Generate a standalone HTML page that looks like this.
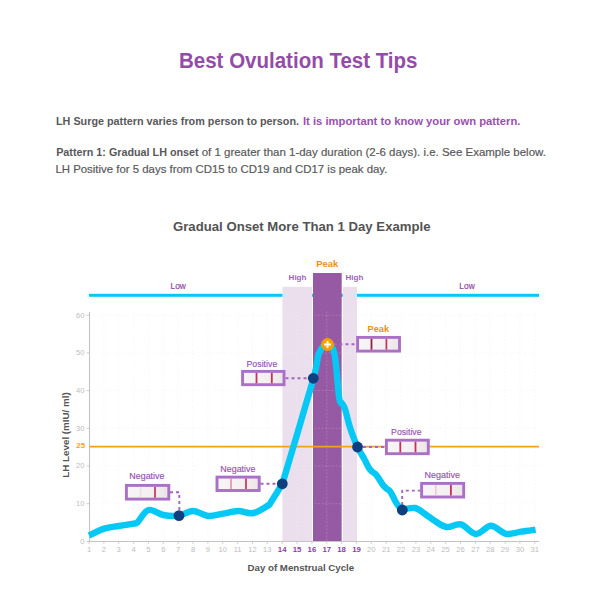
<!DOCTYPE html>
<html><head><meta charset="utf-8"><title>Best Ovulation Test Tips</title>
<style>
html,body{margin:0;padding:0;background:#fff;}
body{width:600px;height:600px;position:relative;overflow:hidden;font-family:"Liberation Sans",Arial,sans-serif;}
.chart{position:absolute;left:0;top:0;}
svg text{font-family:"Liberation Sans",Arial,sans-serif;}
.h1{font-size:22px;font-weight:bold;fill:#934ca8;}
.pb{font-size:11px;font-weight:bold;fill:#58585a;}
.ph{font-size:11px;font-weight:bold;fill:#9a4fb0;}
.pn{font-size:11px;fill:#58585a;stroke:#58585a;stroke-width:0.18px;}
.tl{font-size:7.6px;fill:#bdbdbd;}
.tl25{font-size:7.8px;fill:#f2a11a;font-weight:bold;}
.xlb{font-size:7.8px;fill:#8a3ea3;font-weight:bold;}
.low{font-size:8.4px;fill:#8a3ea3;stroke:#8a3ea3;stroke-width:0.15px;}
.high{font-size:8px;fill:#9c62b6;font-weight:bold;}
.peak{font-size:9.4px;fill:#ef8f0e;font-weight:bold;}
.pk2{font-size:9.2px;fill:#ef8f0e;font-weight:bold;}
.axt{font-size:9.8px;fill:#555;font-weight:bold;}
.bl{font-size:9.5px;fill:#9650af;stroke:#9650af;stroke-width:0.15px;}
.ct{font-size:12.6px;fill:#535353;font-weight:bold;}
</style></head><body>
<svg class="chart" width="600" height="600" viewBox="0 0 600 600">
<defs><linearGradient id="strip" x1="0" y1="0" x2="1" y2="0"><stop offset="0" stop-color="#f8f5f6"/><stop offset="0.6" stop-color="#f4f0f1"/><stop offset="1" stop-color="#ece5e7"/></linearGradient></defs>
<line x1="90" y1="503.7" x2="539" y2="503.7" stroke="#f7f7f7" stroke-width="0.8" stroke-dasharray="2 1.5"/>
<line x1="90" y1="466.0" x2="539" y2="466.0" stroke="#f7f7f7" stroke-width="0.8" stroke-dasharray="2 1.5"/>
<line x1="90" y1="428.3" x2="539" y2="428.3" stroke="#f7f7f7" stroke-width="0.8" stroke-dasharray="2 1.5"/>
<line x1="90" y1="390.6" x2="539" y2="390.6" stroke="#f7f7f7" stroke-width="0.8" stroke-dasharray="2 1.5"/>
<line x1="90" y1="352.9" x2="539" y2="352.9" stroke="#f7f7f7" stroke-width="0.8" stroke-dasharray="2 1.5"/>
<line x1="90" y1="315.2" x2="539" y2="315.2" stroke="#f7f7f7" stroke-width="0.8" stroke-dasharray="2 1.5"/>
<line x1="103.9" y1="311.4" x2="103.9" y2="541.4" stroke="#f7f7f7" stroke-width="0.8" stroke-dasharray="2 1.5"/>
<line x1="118.7" y1="311.4" x2="118.7" y2="541.4" stroke="#f7f7f7" stroke-width="0.8" stroke-dasharray="2 1.5"/>
<line x1="133.6" y1="311.4" x2="133.6" y2="541.4" stroke="#f7f7f7" stroke-width="0.8" stroke-dasharray="2 1.5"/>
<line x1="148.4" y1="311.4" x2="148.4" y2="541.4" stroke="#f7f7f7" stroke-width="0.8" stroke-dasharray="2 1.5"/>
<line x1="163.3" y1="311.4" x2="163.3" y2="541.4" stroke="#f7f7f7" stroke-width="0.8" stroke-dasharray="2 1.5"/>
<line x1="178.2" y1="311.4" x2="178.2" y2="541.4" stroke="#f7f7f7" stroke-width="0.8" stroke-dasharray="2 1.5"/>
<line x1="193.0" y1="311.4" x2="193.0" y2="541.4" stroke="#f7f7f7" stroke-width="0.8" stroke-dasharray="2 1.5"/>
<line x1="207.9" y1="311.4" x2="207.9" y2="541.4" stroke="#f7f7f7" stroke-width="0.8" stroke-dasharray="2 1.5"/>
<line x1="222.7" y1="311.4" x2="222.7" y2="541.4" stroke="#f7f7f7" stroke-width="0.8" stroke-dasharray="2 1.5"/>
<line x1="237.6" y1="311.4" x2="237.6" y2="541.4" stroke="#f7f7f7" stroke-width="0.8" stroke-dasharray="2 1.5"/>
<line x1="252.5" y1="311.4" x2="252.5" y2="541.4" stroke="#f7f7f7" stroke-width="0.8" stroke-dasharray="2 1.5"/>
<line x1="267.3" y1="311.4" x2="267.3" y2="541.4" stroke="#f7f7f7" stroke-width="0.8" stroke-dasharray="2 1.5"/>
<line x1="282.2" y1="311.4" x2="282.2" y2="541.4" stroke="#f7f7f7" stroke-width="0.8" stroke-dasharray="2 1.5"/>
<line x1="297.0" y1="311.4" x2="297.0" y2="541.4" stroke="#f7f7f7" stroke-width="0.8" stroke-dasharray="2 1.5"/>
<line x1="311.9" y1="311.4" x2="311.9" y2="541.4" stroke="#f7f7f7" stroke-width="0.8" stroke-dasharray="2 1.5"/>
<line x1="326.8" y1="311.4" x2="326.8" y2="541.4" stroke="#f7f7f7" stroke-width="0.8" stroke-dasharray="2 1.5"/>
<line x1="341.6" y1="311.4" x2="341.6" y2="541.4" stroke="#f7f7f7" stroke-width="0.8" stroke-dasharray="2 1.5"/>
<line x1="356.5" y1="311.4" x2="356.5" y2="541.4" stroke="#f7f7f7" stroke-width="0.8" stroke-dasharray="2 1.5"/>
<line x1="371.3" y1="311.4" x2="371.3" y2="541.4" stroke="#f7f7f7" stroke-width="0.8" stroke-dasharray="2 1.5"/>
<line x1="386.2" y1="311.4" x2="386.2" y2="541.4" stroke="#f7f7f7" stroke-width="0.8" stroke-dasharray="2 1.5"/>
<line x1="401.1" y1="311.4" x2="401.1" y2="541.4" stroke="#f7f7f7" stroke-width="0.8" stroke-dasharray="2 1.5"/>
<line x1="415.9" y1="311.4" x2="415.9" y2="541.4" stroke="#f7f7f7" stroke-width="0.8" stroke-dasharray="2 1.5"/>
<line x1="430.8" y1="311.4" x2="430.8" y2="541.4" stroke="#f7f7f7" stroke-width="0.8" stroke-dasharray="2 1.5"/>
<line x1="445.6" y1="311.4" x2="445.6" y2="541.4" stroke="#f7f7f7" stroke-width="0.8" stroke-dasharray="2 1.5"/>
<line x1="460.5" y1="311.4" x2="460.5" y2="541.4" stroke="#f7f7f7" stroke-width="0.8" stroke-dasharray="2 1.5"/>
<line x1="475.4" y1="311.4" x2="475.4" y2="541.4" stroke="#f7f7f7" stroke-width="0.8" stroke-dasharray="2 1.5"/>
<line x1="490.2" y1="311.4" x2="490.2" y2="541.4" stroke="#f7f7f7" stroke-width="0.8" stroke-dasharray="2 1.5"/>
<line x1="505.1" y1="311.4" x2="505.1" y2="541.4" stroke="#f7f7f7" stroke-width="0.8" stroke-dasharray="2 1.5"/>
<line x1="519.9" y1="311.4" x2="519.9" y2="541.4" stroke="#f7f7f7" stroke-width="0.8" stroke-dasharray="2 1.5"/>
<line x1="534.8" y1="311.4" x2="534.8" y2="541.4" stroke="#f7f7f7" stroke-width="0.8" stroke-dasharray="2 1.5"/>
<rect x="89" y="293.8" width="450" height="3" fill="#05c9f4"/>
<rect x="282.4" y="286.8" width="29.6" height="254.6" fill="#ebdfee"/>
<rect x="342.8" y="286.8" width="14.2" height="254.6" fill="#ebdfee"/>
<rect x="313" y="273" width="28.7" height="268.4" fill="#9659a4"/>
<line x1="283" y1="503.7" x2="357" y2="503.7" stroke="#ffffff" stroke-opacity="0.22" stroke-width="0.8" stroke-dasharray="2 1.5"/>
<line x1="283" y1="466.0" x2="357" y2="466.0" stroke="#ffffff" stroke-opacity="0.22" stroke-width="0.8" stroke-dasharray="2 1.5"/>
<line x1="283" y1="428.3" x2="357" y2="428.3" stroke="#ffffff" stroke-opacity="0.22" stroke-width="0.8" stroke-dasharray="2 1.5"/>
<line x1="283" y1="390.6" x2="357" y2="390.6" stroke="#ffffff" stroke-opacity="0.22" stroke-width="0.8" stroke-dasharray="2 1.5"/>
<line x1="283" y1="352.9" x2="357" y2="352.9" stroke="#ffffff" stroke-opacity="0.22" stroke-width="0.8" stroke-dasharray="2 1.5"/>
<line x1="283" y1="315.2" x2="357" y2="315.2" stroke="#ffffff" stroke-opacity="0.22" stroke-width="0.8" stroke-dasharray="2 1.5"/>
<line x1="297.0" y1="311.4" x2="297.0" y2="541.4" stroke="#ffffff" stroke-opacity="0.22" stroke-width="0.8" stroke-dasharray="2 1.5"/>
<line x1="311.9" y1="311.4" x2="311.9" y2="541.4" stroke="#ffffff" stroke-opacity="0.22" stroke-width="0.8" stroke-dasharray="2 1.5"/>
<line x1="326.8" y1="311.4" x2="326.8" y2="541.4" stroke="#ffffff" stroke-opacity="0.22" stroke-width="0.8" stroke-dasharray="2 1.5"/>
<line x1="341.6" y1="311.4" x2="341.6" y2="541.4" stroke="#ffffff" stroke-opacity="0.22" stroke-width="0.8" stroke-dasharray="2 1.5"/>
<line x1="89.5" y1="312" x2="89.5" y2="541.9" stroke="#c4c4c4" stroke-width="1.1"/>
<line x1="88" y1="541.5" x2="539" y2="541.5" stroke="#c4c4c4" stroke-width="1.1"/>
<line x1="86.5" y1="541.4" x2="89" y2="541.4" stroke="#c4c4c4" stroke-width="0.8"/>
<line x1="86.5" y1="503.7" x2="89" y2="503.7" stroke="#c4c4c4" stroke-width="0.8"/>
<line x1="86.5" y1="466.0" x2="89" y2="466.0" stroke="#c4c4c4" stroke-width="0.8"/>
<line x1="86.5" y1="428.3" x2="89" y2="428.3" stroke="#c4c4c4" stroke-width="0.8"/>
<line x1="86.5" y1="390.6" x2="89" y2="390.6" stroke="#c4c4c4" stroke-width="0.8"/>
<line x1="86.5" y1="352.9" x2="89" y2="352.9" stroke="#c4c4c4" stroke-width="0.8"/>
<line x1="86.5" y1="315.2" x2="89" y2="315.2" stroke="#c4c4c4" stroke-width="0.8"/>
<line x1="89.0" y1="541.4" x2="89.0" y2="543.9" stroke="#c4c4c4" stroke-width="0.8"/>
<line x1="103.9" y1="541.4" x2="103.9" y2="543.9" stroke="#c4c4c4" stroke-width="0.8"/>
<line x1="118.7" y1="541.4" x2="118.7" y2="543.9" stroke="#c4c4c4" stroke-width="0.8"/>
<line x1="133.6" y1="541.4" x2="133.6" y2="543.9" stroke="#c4c4c4" stroke-width="0.8"/>
<line x1="148.4" y1="541.4" x2="148.4" y2="543.9" stroke="#c4c4c4" stroke-width="0.8"/>
<line x1="163.3" y1="541.4" x2="163.3" y2="543.9" stroke="#c4c4c4" stroke-width="0.8"/>
<line x1="178.2" y1="541.4" x2="178.2" y2="543.9" stroke="#c4c4c4" stroke-width="0.8"/>
<line x1="193.0" y1="541.4" x2="193.0" y2="543.9" stroke="#c4c4c4" stroke-width="0.8"/>
<line x1="207.9" y1="541.4" x2="207.9" y2="543.9" stroke="#c4c4c4" stroke-width="0.8"/>
<line x1="222.7" y1="541.4" x2="222.7" y2="543.9" stroke="#c4c4c4" stroke-width="0.8"/>
<line x1="237.6" y1="541.4" x2="237.6" y2="543.9" stroke="#c4c4c4" stroke-width="0.8"/>
<line x1="252.5" y1="541.4" x2="252.5" y2="543.9" stroke="#c4c4c4" stroke-width="0.8"/>
<line x1="267.3" y1="541.4" x2="267.3" y2="543.9" stroke="#c4c4c4" stroke-width="0.8"/>
<line x1="282.2" y1="541.4" x2="282.2" y2="543.9" stroke="#c4c4c4" stroke-width="0.8"/>
<line x1="297.0" y1="541.4" x2="297.0" y2="543.9" stroke="#c4c4c4" stroke-width="0.8"/>
<line x1="311.9" y1="541.4" x2="311.9" y2="543.9" stroke="#c4c4c4" stroke-width="0.8"/>
<line x1="326.8" y1="541.4" x2="326.8" y2="543.9" stroke="#c4c4c4" stroke-width="0.8"/>
<line x1="341.6" y1="541.4" x2="341.6" y2="543.9" stroke="#c4c4c4" stroke-width="0.8"/>
<line x1="356.5" y1="541.4" x2="356.5" y2="543.9" stroke="#c4c4c4" stroke-width="0.8"/>
<line x1="371.3" y1="541.4" x2="371.3" y2="543.9" stroke="#c4c4c4" stroke-width="0.8"/>
<line x1="386.2" y1="541.4" x2="386.2" y2="543.9" stroke="#c4c4c4" stroke-width="0.8"/>
<line x1="401.1" y1="541.4" x2="401.1" y2="543.9" stroke="#c4c4c4" stroke-width="0.8"/>
<line x1="415.9" y1="541.4" x2="415.9" y2="543.9" stroke="#c4c4c4" stroke-width="0.8"/>
<line x1="430.8" y1="541.4" x2="430.8" y2="543.9" stroke="#c4c4c4" stroke-width="0.8"/>
<line x1="445.6" y1="541.4" x2="445.6" y2="543.9" stroke="#c4c4c4" stroke-width="0.8"/>
<line x1="460.5" y1="541.4" x2="460.5" y2="543.9" stroke="#c4c4c4" stroke-width="0.8"/>
<line x1="475.4" y1="541.4" x2="475.4" y2="543.9" stroke="#c4c4c4" stroke-width="0.8"/>
<line x1="490.2" y1="541.4" x2="490.2" y2="543.9" stroke="#c4c4c4" stroke-width="0.8"/>
<line x1="505.1" y1="541.4" x2="505.1" y2="543.9" stroke="#c4c4c4" stroke-width="0.8"/>
<line x1="519.9" y1="541.4" x2="519.9" y2="543.9" stroke="#c4c4c4" stroke-width="0.8"/>
<line x1="534.8" y1="541.4" x2="534.8" y2="543.9" stroke="#c4c4c4" stroke-width="0.8"/>
<text x="84.5" y="543.7" text-anchor="end" class="tl">0</text>
<text x="84.5" y="506.0" text-anchor="end" class="tl">10</text>
<text x="84.5" y="468.3" text-anchor="end" class="tl">20</text>
<text x="84.5" y="430.6" text-anchor="end" class="tl">30</text>
<text x="84.5" y="392.9" text-anchor="end" class="tl">40</text>
<text x="84.5" y="355.2" text-anchor="end" class="tl">50</text>
<text x="84.5" y="317.5" text-anchor="end" class="tl">60</text>
<text x="85" y="447.6" text-anchor="end" class="tl25">25</text>
<text x="89.0" y="551.6" text-anchor="middle" class="tl">1</text>
<text x="103.9" y="551.6" text-anchor="middle" class="tl">2</text>
<text x="118.7" y="551.6" text-anchor="middle" class="tl">3</text>
<text x="133.6" y="551.6" text-anchor="middle" class="tl">4</text>
<text x="148.4" y="551.6" text-anchor="middle" class="tl">5</text>
<text x="163.3" y="551.6" text-anchor="middle" class="tl">6</text>
<text x="178.2" y="551.6" text-anchor="middle" class="tl">7</text>
<text x="193.0" y="551.6" text-anchor="middle" class="tl">8</text>
<text x="207.9" y="551.6" text-anchor="middle" class="tl">9</text>
<text x="222.7" y="551.6" text-anchor="middle" class="tl">10</text>
<text x="237.6" y="551.6" text-anchor="middle" class="tl">11</text>
<text x="252.5" y="551.6" text-anchor="middle" class="tl">12</text>
<text x="267.3" y="551.6" text-anchor="middle" class="tl">13</text>
<text x="282.2" y="551.6" text-anchor="middle" class="xlb">14</text>
<text x="297.0" y="551.6" text-anchor="middle" class="xlb">15</text>
<text x="311.9" y="551.6" text-anchor="middle" class="xlb">16</text>
<text x="326.8" y="551.6" text-anchor="middle" class="xlb">17</text>
<text x="341.6" y="551.6" text-anchor="middle" class="xlb">18</text>
<text x="356.5" y="551.6" text-anchor="middle" class="xlb">19</text>
<text x="371.3" y="551.6" text-anchor="middle" class="tl">20</text>
<text x="386.2" y="551.6" text-anchor="middle" class="tl">21</text>
<text x="401.1" y="551.6" text-anchor="middle" class="tl">22</text>
<text x="415.9" y="551.6" text-anchor="middle" class="tl">23</text>
<text x="430.8" y="551.6" text-anchor="middle" class="tl">24</text>
<text x="445.6" y="551.6" text-anchor="middle" class="tl">25</text>
<text x="460.5" y="551.6" text-anchor="middle" class="tl">26</text>
<text x="475.4" y="551.6" text-anchor="middle" class="tl">27</text>
<text x="490.2" y="551.6" text-anchor="middle" class="tl">28</text>
<text x="505.1" y="551.6" text-anchor="middle" class="tl">29</text>
<text x="519.9" y="551.6" text-anchor="middle" class="tl">30</text>
<text x="534.8" y="551.6" text-anchor="middle" class="tl">31</text>
<line x1="89.5" y1="446.7" x2="539" y2="446.7" stroke="#f2a11a" stroke-width="1.7"/>
<text x="178.2" y="288.9" text-anchor="middle" class="low">Low</text>
<text x="467" y="288.9" text-anchor="middle" class="low">Low</text>
<text x="297.5" y="279.6" text-anchor="middle" class="high">High</text>
<text x="354.4" y="279.6" text-anchor="middle" class="high">High</text>
<text x="327.3" y="267.1" text-anchor="middle" class="peak">Peak</text>
<text x="247.6" y="570.8" class="axt" textLength="106.5" lengthAdjust="spacingAndGlyphs">Day of Menstrual Cycle</text>
<text transform="translate(68.8,435) rotate(-90)" text-anchor="middle" class="axt">LH Level (mIU/ ml)</text>
<path d="M89.0,535.5 C91.5,534.4 99.0,530.2 104.0,528.6 C109.0,527.0 113.8,526.8 118.7,526.0 C123.6,525.2 130.4,524.2 133.5,523.6 C136.6,523.0 135.0,524.6 137.5,522.3 C140.0,520.0 144.2,511.2 148.5,510.0 C152.8,508.8 158.3,514.1 163.3,515.0 C168.3,515.9 173.5,516.3 178.5,515.6 C183.5,514.9 188.3,510.9 193.2,511.0 C198.1,511.1 203.0,515.6 208.0,516.0 C213.0,516.4 218.0,514.4 223.0,513.6 C228.0,512.8 232.9,511.1 238.0,511.0 C243.1,510.9 248.2,514.1 253.5,513.0 C258.8,511.9 269.5,504.5 269.5,504.5 C269.5,504.5 282.3,484.0 282.3,484.0 C282.3,484.0 306.9,401.7 313.0,380.0 C319.1,358.3 316.4,360.0 318.8,354.0 C321.2,348.0 324.9,344.0 327.5,344.0 C330.1,344.0 332.6,345.2 334.5,354.0 C336.4,362.8 337.8,388.5 339.0,396.7 C340.2,404.9 341.7,403.0 341.7,403.0 C341.7,403.0 343.6,404.9 345.0,409.0 C346.4,413.1 347.9,421.2 350.0,427.5 C352.1,433.8 355.1,441.8 357.5,447.0 C359.9,452.2 362.4,455.6 364.3,459.0 C366.2,462.4 367.3,465.4 368.6,467.5 C369.9,469.6 370.9,470.5 372.0,471.6 C373.1,472.7 374.3,472.8 375.5,474.0 C376.7,475.2 377.8,477.0 379.0,478.8 C380.2,480.6 381.8,483.4 383.0,485.0 C384.2,486.6 385.4,487.6 386.5,488.6 C387.6,489.6 388.7,489.7 389.8,491.0 C390.9,492.3 391.8,494.3 393.0,496.5 C394.2,498.7 395.5,501.8 397.0,504.0 C398.5,506.2 402.0,510.0 402.0,510.0 C402.0,510.0 411.2,507.3 415.0,508.0 C418.8,508.7 421.7,511.8 425.0,514.0 C428.3,516.2 431.4,518.8 435.0,521.0 C438.6,523.2 442.2,526.4 446.5,527.0 C450.8,527.6 456.1,523.2 461.0,524.4 C465.9,525.6 471.0,533.8 476.0,534.0 C481.0,534.2 486.0,525.8 491.0,525.8 C496.0,525.8 501.0,532.8 506.0,533.8 C511.0,534.7 516.1,532.4 521.0,531.7 C525.9,531.0 533.2,530.0 535.6,529.6" fill="none" stroke="#05c9f4" stroke-width="6.4" stroke-linejoin="round" stroke-linecap="butt"/>
<polyline points="170.0,492.2 179.3,492.2 179.3,510.0" fill="none" stroke="#a466c0" stroke-width="1.9" stroke-dasharray="3 3"/>
<polyline points="260.5,483.7 277.0,483.7" fill="none" stroke="#a466c0" stroke-width="1.9" stroke-dasharray="3 3"/>
<polyline points="285.5,378.3 308.0,378.3" fill="none" stroke="#a466c0" stroke-width="1.9" stroke-dasharray="3 3"/>
<polyline points="333.5,344.3 356.5,344.3" fill="none" stroke="#a466c0" stroke-width="1.9" stroke-dasharray="3 3"/>
<polyline points="363.0,447.0 385.0,447.0" fill="none" stroke="#a466c0" stroke-width="1.9" stroke-dasharray="3 3"/>
<polyline points="402.2,505.0 402.2,490.6 420.5,490.6" fill="none" stroke="#a466c0" stroke-width="1.9" stroke-dasharray="3 3"/>
<rect x="126.4" y="485.4" width="42.4" height="13.7" fill="url(#strip)" stroke="#a970c5" stroke-width="2.9"/>
<line x1="140.8" y1="486.9" x2="140.8" y2="497.7" stroke="#e8d6dc" stroke-width="1.0"/>
<line x1="155.0" y1="486.9" x2="155.0" y2="497.7" stroke="#c3325c" stroke-width="1.7"/>
<line x1="165.0" y1="486.9" x2="165.0" y2="497.7" stroke="#e9dfe2" stroke-width="0.8"/>
<rect x="217.0" y="477.1" width="42.2" height="13.4" fill="url(#strip)" stroke="#a970c5" stroke-width="2.9"/>
<line x1="231.0" y1="478.6" x2="231.0" y2="489.1" stroke="#d88ca4" stroke-width="1.5"/>
<line x1="246.0" y1="478.6" x2="246.0" y2="489.1" stroke="#c3325c" stroke-width="1.7"/>
<rect x="242.6" y="371.4" width="41.4" height="13.3" fill="url(#strip)" stroke="#a970c5" stroke-width="2.9"/>
<line x1="256.5" y1="372.9" x2="256.5" y2="383.3" stroke="#c3325c" stroke-width="1.8"/>
<line x1="271.8" y1="372.9" x2="271.8" y2="383.3" stroke="#c3325c" stroke-width="1.8"/>
<rect x="357.6" y="337.4" width="41.9" height="13.7" fill="url(#strip)" stroke="#a970c5" stroke-width="2.9"/>
<line x1="371.5" y1="338.9" x2="371.5" y2="349.7" stroke="#8e2244" stroke-width="1.8"/>
<line x1="386.4" y1="338.9" x2="386.4" y2="349.7" stroke="#c3325c" stroke-width="1.7"/>
<rect x="386.4" y="440.2" width="41.9" height="13.5" fill="url(#strip)" stroke="#a970c5" stroke-width="2.9"/>
<line x1="400.3" y1="441.7" x2="400.3" y2="452.3" stroke="#c3325c" stroke-width="1.8"/>
<line x1="415.5" y1="441.7" x2="415.5" y2="452.3" stroke="#c3325c" stroke-width="1.8"/>
<rect x="421.6" y="483.4" width="42.1" height="13.6" fill="url(#strip)" stroke="#a970c5" stroke-width="2.9"/>
<line x1="435.8" y1="484.9" x2="435.8" y2="495.6" stroke="#ebc4d0" stroke-width="1.4"/>
<line x1="450.9" y1="484.9" x2="450.9" y2="495.6" stroke="#c3325c" stroke-width="1.8"/>
<text x="129.3" y="478.8" class="bl" textLength="35.2" lengthAdjust="spacingAndGlyphs">Negative</text>
<text x="220.3" y="471.8" class="bl" textLength="35.2" lengthAdjust="spacingAndGlyphs">Negative</text>
<text x="246.5" y="366.7" class="bl" textLength="30.8" lengthAdjust="spacingAndGlyphs">Positive</text>
<text x="391.1" y="434.7" class="bl" textLength="30.4" lengthAdjust="spacingAndGlyphs">Positive</text>
<text x="424.5" y="477.7" class="bl" textLength="35.5" lengthAdjust="spacingAndGlyphs">Negative</text>
<text x="378.3" y="332.3" text-anchor="middle" class="pk2">Peak</text>
<circle cx="179.0" cy="515.6" r="5.4" fill="#0f3f7e"/>
<circle cx="282.3" cy="483.8" r="5.4" fill="#0f3f7e"/>
<circle cx="313.3" cy="378.3" r="5.4" fill="#0f3f7e"/>
<circle cx="357.5" cy="447.0" r="5.4" fill="#0f3f7e"/>
<circle cx="402.3" cy="510.0" r="5.4" fill="#0f3f7e"/>
<circle cx="327.5" cy="344.5" r="6.45" fill="#f5a000"/>
<path d="M327.5,341 V348 M324,344.5 H331" stroke="#fff" stroke-width="2"/>
<text x="179.0" y="67.5" class="h1" textLength="238.5" lengthAdjust="spacingAndGlyphs">Best Ovulation Test Tips</text>
<text x="56.0" y="124.9" class="pb" textLength="243.0" lengthAdjust="spacingAndGlyphs">LH Surge pattern varies from person to person.</text>
<text x="302.9" y="124.9" class="ph" textLength="217.6" lengthAdjust="spacingAndGlyphs">It is important to know your own pattern.</text>
<text x="56.2" y="155.8" class="pb" textLength="142.5" lengthAdjust="spacingAndGlyphs">Pattern 1: Gradual LH onset</text>
<text x="201.7" y="155.8" class="pn" textLength="344.2" lengthAdjust="spacingAndGlyphs">of 1 greater than 1-day duration (2-6 days). i.e. See Example below.</text>
<text x="55.4" y="172.5" class="pn" textLength="332.0" lengthAdjust="spacingAndGlyphs">LH Positive for 5 days from CD15 to CD19 and CD17 is peak day.</text>
<text x="173.0" y="231" class="ct" textLength="257.5" lengthAdjust="spacingAndGlyphs">Gradual Onset More Than 1 Day Example</text>
</svg>
</body></html>
